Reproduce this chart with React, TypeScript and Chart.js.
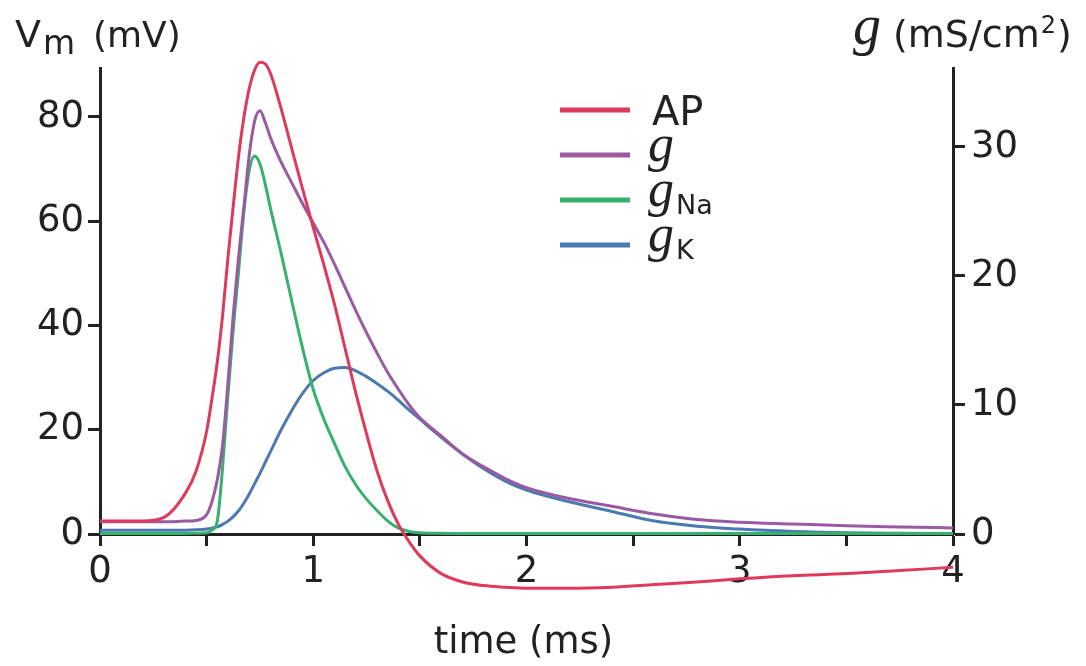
import React, { useEffect, useRef } from 'react';
import { Chart, registerables } from 'chart.js';

Chart.register(...registerables);

// ---- data ----
const timeMs = [0, 0.2, 0.3, 0.4, 0.45, 0.5, 0.525, 0.55, 0.575, 0.6, 0.625, 0.65, 0.675, 0.7, 0.725, 0.75, 0.775, 0.8, 0.85, 0.9, 0.95, 1.0, 1.05, 1.1, 1.15, 1.2, 1.25, 1.3, 1.35, 1.4, 1.45, 1.5, 1.6, 1.7, 1.8, 1.9, 2.0, 2.2, 2.4, 2.6, 2.8, 3.0, 3.25, 3.5, 3.75, 4.0];

const apVm = [2.5, 2.5, 3.2, 7.8, 12.0, 19.7, 26, 33, 42, 53, 63, 72.5, 80, 85.5, 89, 90.5, 90.2, 88.3, 81.5, 73.8, 66.2, 58.8, 51.6, 44.0, 35.5, 27.0, 19.2, 12.0, 6.3, 1.8, -1.5, -4.2, -7.6, -9.2, -9.9, -10.2, -10.4, -10.4, -10.2, -9.7, -9.2, -8.6, -8.0, -7.6, -7.0, -6.4];

const gTotal = [0.95, 0.95, 0.95, 1.0, 1.05, 1.5, 2.5, 4.2, 6.9, 11.7, 17.0, 21.5, 25.4, 29.4, 32.0, 32.8, 31.9, 30.7, 28.8, 27.2, 25.6, 24.1, 22.6, 20.9, 19.1, 17.3, 15.6, 14.0, 12.5, 11.2, 10.0, 9.0, 7.6, 6.2, 5.2, 4.3, 3.6, 2.75, 2.15, 1.55, 1.12, 0.92, 0.78, 0.64, 0.55, 0.47];

const gNa = [0.03, 0.03, 0.03, 0.04, 0.06, 0.1, 0.3, 1.0, 5.2, 10.8, 15.9, 20.4, 25.0, 28.2, 29.3, 28.7, 27.1, 25.2, 21.7, 18.0, 14.4, 11.2, 8.9, 7.0, 5.2, 3.8, 2.7, 1.8, 1.0, 0.45, 0.2, 0.1, 0.05, 0.03, 0.03, 0.03, 0.03, 0.03, 0.03, 0.03, 0.03, 0.03, 0.03, 0.03, 0.03, 0.03];

const gK = [0.3, 0.3, 0.3, 0.3, 0.32, 0.38, 0.45, 0.55, 0.75, 1.0, 1.35, 1.8, 2.4, 3.1, 3.9, 4.7, 5.55, 6.4, 8.1, 9.6, 10.9, 11.9, 12.5, 12.85, 12.9, 12.65, 12.2, 11.65, 11.05, 10.35, 9.6, 8.9, 7.5, 6.2, 5.05, 4.1, 3.4, 2.5, 1.75, 1.0, 0.6, 0.38, 0.2, 0.1, 0.06, 0.04];

const seriesLabels = ['AP', 'g', 'gNa', 'gK'];
const xTicks = [0, 0.5, 1, 1.5, 2, 2.5, 3, 3.5, 4];
const vmTicks = [0, 20, 40, 60, 80];
const gTicks = [0, 10, 20, 30];

const SANS = '"DejaVu Sans", "Liberation Sans", sans-serif';
const SERIF = '"Liberation Serif", "DejaVu Serif", serif';
const INK = '#222222';
const COLORS = ['#dd3a5c', '#9a5aa2', '#38b070', '#4a7ab0'];

const pts = (vals: number[]) => vals.map((v, i) => ({ x: timeMs[i], y: v }));

const textPlugin = {
  id: 'customText',
  afterDraw(chart: any) {
    const ctx: CanvasRenderingContext2D = chart.ctx;
    ctx.save();
    ctx.fillStyle = INK;
    ctx.textAlign = 'left';
    ctx.textBaseline = 'alphabetic';

    // left axis title: V_m (mV)
    ctx.font = `38px ${SANS}`;
    ctx.fillText('V', 15, 47);
    ctx.font = `33px ${SANS}`;
    ctx.fillText('m', 43, 54);
    ctx.font = `36px ${SANS}`;
    ctx.fillText('(mV)', 93, 47);

    // right axis title: g (mS/cm²)
    ctx.font = `italic 56px ${SERIF}`;
    ctx.fillText('g', 853, 44);
    ctx.font = `38px ${SANS}`;
    const part = '(mS/cm';
    ctx.fillText(part, 893, 47);
    const w1 = ctx.measureText(part).width;
    ctx.font = `24px ${SANS}`;
    ctx.fillText('2', 893 + w1 + 1, 33);
    const w2 = ctx.measureText('2').width;
    ctx.font = `38px ${SANS}`;
    ctx.fillText(')', 893 + w1 + w2 + 2, 47);

    // x axis title
    ctx.textAlign = 'center';
    ctx.font = `37px ${SANS}`;
    const ca = chart.chartArea;
    ctx.fillText('time (ms)', (ca.left + ca.right) / 2 - 3, 653);

    // legend
    ctx.textAlign = 'left';
    chart.data.datasets.forEach((ds: any, i: number) => {
      const y = 110 + 45 * i;
      ctx.strokeStyle = ds.borderColor;
      ctx.lineWidth = 5;
      ctx.beginPath();
      ctx.moveTo(560, y);
      ctx.lineTo(630, y);
      ctx.stroke();
      const label: string = ds.label;
      if (label.startsWith('g')) {
        ctx.font = `italic 52px ${SERIF}`;
        ctx.fillText('g', 648, y + 6);
        const gw = ctx.measureText('g').width;
        const sub = label.slice(1);
        if (sub) {
          ctx.font = `27px ${SANS}`;
          ctx.fillText(sub, 648 + gw + 2, y + 14);
        }
      } else {
        ctx.font = `40px ${SANS}`;
        ctx.fillText(label, 652, y + 15);
      }
    });
    ctx.restore();
  },
};

export default function App() {
  const ref = useRef<HTMLCanvasElement | null>(null);

  useEffect(() => {
    document.body.style.margin = '0';
    const canvas = ref.current;
    if (!canvas) return;

    const tickFont = { family: SANS, size: 37 };
    const grid = {
      drawOnChartArea: false,
      drawTicks: true,
      tickLength: 12,
      tickWidth: 3,
      tickColor: INK,
    };
    const border = { display: true, color: INK, width: 3 };

    const line = (label: string, vals: number[], color: string, axis: string) => ({
      label,
      data: pts(vals),
      yAxisID: axis,
      borderColor: color,
      backgroundColor: color,
      borderWidth: 3,
      pointRadius: 0,
      fill: false,
      cubicInterpolationMode: 'monotone' as const,
      clip: false as const,
    });

    const chart = new Chart(canvas, {
      type: 'line',
      data: {
        datasets: [
          line(seriesLabels[0], apVm, COLORS[0], 'y'),
          line(seriesLabels[1], gTotal, COLORS[1], 'y1'),
          line(seriesLabels[2], gNa, COLORS[2], 'y1'),
          line(seriesLabels[3], gK, COLORS[3], 'y1'),
        ],
      },
      options: {
        responsive: false,
        animation: false,
        devicePixelRatio: 1,
        layout: { padding: { top: 68, left: 0, right: 0, bottom: 0 } },
        plugins: {
          legend: { display: false },
          tooltip: { enabled: false },
          title: { display: false },
        },
        scales: {
          x: {
            type: 'linear',
            position: 'bottom',
            min: 0,
            max: 4,
            afterBuildTicks: (a: any) => {
              a.ticks = xTicks.map((v) => ({ value: v }));
            },
            afterFit: (a: any) => {
              a.height = 132;
            },
            ticks: {
              autoSkip: false,
              maxRotation: 0,
              font: tickFont,
              color: INK,
              padding: 4,
              callback: (v: any) => (Number.isInteger(Number(v)) ? String(v) : ''),
            },
            grid,
            border,
          },
          y: {
            type: 'linear',
            position: 'left',
            min: 0,
            max: 89.4,
            afterBuildTicks: (a: any) => {
              a.ticks = vmTicks.map((v) => ({ value: v }));
            },
            afterFit: (a: any) => {
              a.width = 100;
            },
            ticks: { font: tickFont, color: INK, padding: 4 },
            grid,
            border,
          },
          y1: {
            type: 'linear',
            position: 'right',
            min: 0,
            max: 36.12,
            afterBuildTicks: (a: any) => {
              a.ticks = gTicks.map((v) => ({ value: v }));
            },
            afterFit: (a: any) => {
              a.width = 133;
            },
            ticks: { font: tickFont, color: INK, padding: 6 },
            grid,
            border,
          },
        },
      },
      plugins: [textPlugin],
    } as any);

    return () => chart.destroy();
  }, []);

  return <canvas ref={ref} width={1086} height={666} style={{ display: 'block' }} />;
}
